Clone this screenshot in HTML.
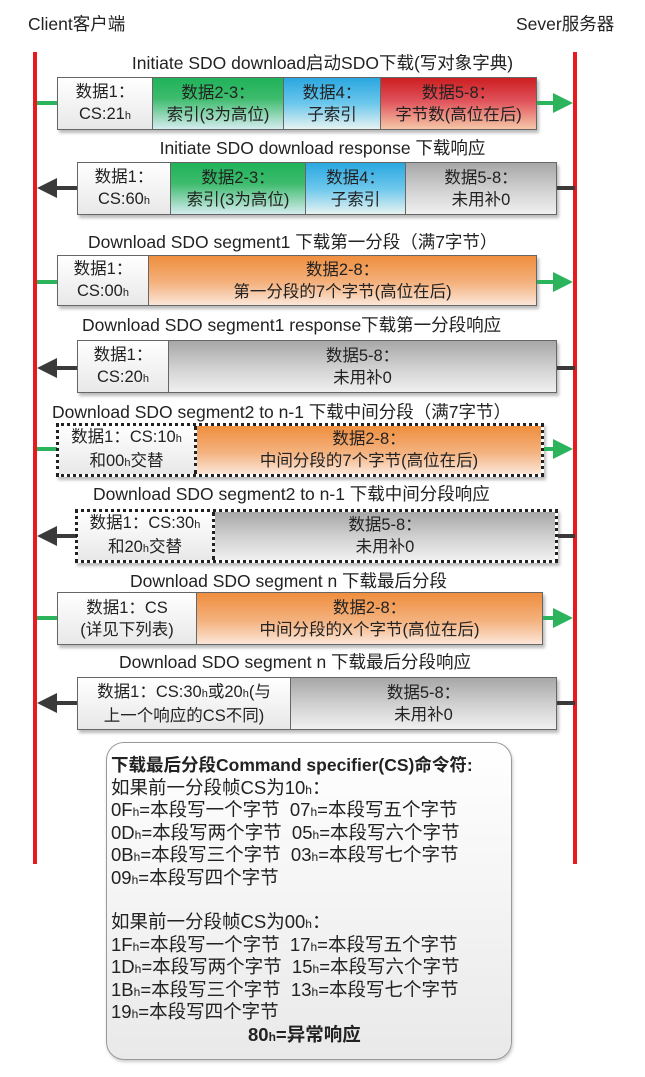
<!DOCTYPE html>
<html><head><meta charset="utf-8"><style>
*{margin:0;padding:0;box-sizing:border-box}
body{width:645px;height:1077px;background:#fff;position:relative;overflow:hidden;font-family:"Liberation Sans","Noto Sans CJK SC",sans-serif;color:#222}
.vl{position:absolute;top:52px;height:812px;width:4px;background:#e8191f}
.t{position:absolute;font-size:17.5px;white-space:nowrap;text-align:center;line-height:20px}
.box{position:absolute;display:flex;border:1px solid #666;box-shadow:2px 3px 3px #bbb}
.c{display:flex;flex-direction:column;justify-content:center;align-items:center;font-size:16.5px;line-height:22px;border-right:1px solid #666;text-align:center;white-space:nowrap}
.c:last-child{border-right:none}
.w{background:linear-gradient(#fff,#e8e8e8)}
.g{background:linear-gradient(#1fb35a,#3dbb6c 40%,#d4ecef)}
.b{background:linear-gradient(#2aa7e0,#6cc7ec 50%,#e6f3f1)}
.r{background:linear-gradient(#cc1f22,#e0525a 45%,#f5c7a8)}
.o{background:linear-gradient(#ef8e3e,#f4b27f 55%,#fbe6d8)}
.gr{background:linear-gradient(#a7a7a7,#cfcfcf 50%,#f0f0f0)}
.dot{border:3px dotted #222}
.dot .c{border-right:3px dotted #222}
.dot .c:last-child{border-right:none}
.ln{position:absolute;height:4px}
.gl{background:#2cb45d}.dl{background:#3a3a3a}
.ar{position:absolute;width:0;height:0;border-top:10px solid transparent;border-bottom:10px solid transparent}
.arR{border-left:20px solid #2cb45d}
.arL{border-right:20px solid #3a3a3a}
small{font-size:11px}
.note{position:absolute;left:106px;top:742px;width:406px;height:318px;border:1px solid #999;border-radius:18px;background:linear-gradient(#fff,#e9e9e9);box-shadow:1px 2px 3px #ccc}
.nt{position:absolute;left:111px;font-size:18.5px;white-space:nowrap;line-height:20px}
.nt small{font-size:12px}
</style></head><body>
<div class="t" style="left:28px;top:14px">Client客户端</div>
<div class="t" style="left:516px;top:14px">Sever服务器</div>
<div class="vl" style="left:33px"></div>
<div class="vl" style="left:573px"></div>

<div class="t" style="left:0;width:645px;top:53px">Initiate SDO download启动SDO下载(写对象字典)</div>
<div class="ln gl" style="left:37px;width:20px;top:101px"></div>
<div class="box" style="left:57px;top:77px;width:480px;height:53px">
<div class="c w" style="width:95px"><div>数据1：</div><div>CS:21<small>h</small></div></div>
<div class="c g" style="width:131px"><div>数据2-3：</div><div>索引(3为高位)</div></div>
<div class="c b" style="width:97px"><div>数据4：</div><div>子索引</div></div>
<div class="c r" style="flex:1"><div>数据5-8：</div><div>字节数(高位在后)</div></div>
</div>
<div class="ln gl" style="left:537px;width:20px;top:101px"></div>
<div class="ar arR" style="left:553px;top:93px"></div>

<div class="t" style="left:0;width:645px;top:138px">Initiate SDO download response 下载响应</div>
<div class="ar arL" style="left:37px;top:178px"></div>
<div class="ln dl" style="left:55px;width:22px;top:186px"></div>
<div class="box" style="left:77px;top:162px;width:480px;height:53px">
<div class="c w" style="width:93px"><div>数据1：</div><div>CS:60<small>h</small></div></div>
<div class="c g" style="width:135px"><div>数据2-3：</div><div>索引(3为高位)</div></div>
<div class="c b" style="width:100px"><div>数据4：</div><div>子索引</div></div>
<div class="c gr" style="flex:1"><div>数据5-8：</div><div>未用补0</div></div>
</div>
<div class="ln dl" style="left:557px;width:18px;top:186px"></div>

<div class="t" style="left:88px;top:232px">Download SDO segment1 下载第一分段（满7字节）</div>
<div class="ln gl" style="left:37px;width:20px;top:280px"></div>
<div class="box" style="left:57px;top:255px;width:480px;height:51px">
<div class="c w" style="width:91px"><div>数据1：</div><div>CS:00<small>h</small></div></div>
<div class="c o" style="flex:1"><div>数据2-8：</div><div>第一分段的7个字节(高位在后)</div></div>
</div>
<div class="ln gl" style="left:537px;width:20px;top:280px"></div>
<div class="ar arR" style="left:553px;top:272px"></div>

<div class="t" style="left:82px;top:315px">Download SDO segment1 response下载第一分段响应</div>
<div class="ar arL" style="left:37px;top:358px"></div>
<div class="ln dl" style="left:55px;width:22px;top:366px"></div>
<div class="box" style="left:77px;top:340px;width:480px;height:53px">
<div class="c w" style="width:91px"><div>数据1：</div><div>CS:20<small>h</small></div></div>
<div class="c gr" style="flex:1"><div>数据5-8：</div><div>未用补0</div></div>
</div>
<div class="ln dl" style="left:557px;width:18px;top:366px"></div>

<div class="t" style="left:52px;top:402px">Download SDO segment2 to n-1 下载中间分段（满7字节）</div>
<div class="ln gl" style="left:37px;width:20px;top:447px"></div>
<div class="box dot" style="left:56px;top:423px;width:488px;height:54px">
<div class="c w" style="width:138px"><div>数据1：CS:10<small>h</small></div><div>和00<small>h</small>交替</div></div>
<div class="c o" style="flex:1"><div>数据2-8：</div><div>中间分段的7个字节(高位在后)</div></div>
</div>
<div class="ln gl" style="left:544px;width:15px;top:447px"></div>
<div class="ar arR" style="left:553px;top:439px"></div>

<div class="t" style="left:93px;top:484px">Download SDO segment2 to n-1 下载中间分段响应</div>
<div class="ar arL" style="left:37px;top:526px"></div>
<div class="ln dl" style="left:55px;width:22px;top:534px"></div>
<div class="box dot" style="left:75px;top:509px;width:483px;height:54px">
<div class="c w" style="width:137px"><div>数据1：CS:30<small>h</small></div><div>和20<small>h</small>交替</div></div>
<div class="c gr" style="flex:1"><div>数据5-8：</div><div>未用补0</div></div>
</div>
<div class="ln dl" style="left:558px;width:17px;top:534px"></div>

<div class="t" style="left:130px;top:571px">Download SDO segment n 下载最后分段</div>
<div class="ln gl" style="left:37px;width:20px;top:616px"></div>
<div class="box" style="left:57px;top:592px;width:486px;height:53px">
<div class="c w" style="width:139px"><div>数据1：CS</div><div>(详见下列表)</div></div>
<div class="c o" style="flex:1"><div>数据2-8：</div><div>中间分段的X个字节(高位在后)</div></div>
</div>
<div class="ln gl" style="left:543px;width:16px;top:616px"></div>
<div class="ar arR" style="left:553px;top:608px"></div>

<div class="t" style="left:119px;top:652px">Download SDO segment n 下载最后分段响应</div>
<div class="ar arL" style="left:37px;top:693px"></div>
<div class="ln dl" style="left:55px;width:22px;top:701px"></div>
<div class="box" style="left:77px;top:677px;width:480px;height:53px">
<div class="c w" style="width:213px"><div>数据1：CS:30<small>h</small>或20<small>h</small>(与</div><div>上一个响应的CS不同)</div></div>
<div class="c gr" style="flex:1"><div>数据5-8：</div><div>未用补0</div></div>
</div>
<div class="ln dl" style="left:557px;width:18px;top:701px"></div>

<div class="note"></div>
<div class="nt" style="top:755px;font-weight:bold;font-size:17.5px">下载最后分段Command specifier(CS)命令符:</div>
<div class="nt" style="top:778px">如果前一分段帧CS为10<small>h</small>：</div>
<div class="nt" style="top:800px">0F<small>h</small>=本段写一个字节&nbsp; 07<small>h</small>=本段写五个字节</div>
<div class="nt" style="top:823px">0D<small>h</small>=本段写两个字节&nbsp; 05<small>h</small>=本段写六个字节</div>
<div class="nt" style="top:845px">0B<small>h</small>=本段写三个字节&nbsp; 03<small>h</small>=本段写七个字节</div>
<div class="nt" style="top:868px">09<small>h</small>=本段写四个字节</div>
<div class="nt" style="top:912px">如果前一分段帧CS为00<small>h</small>：</div>
<div class="nt" style="top:935px">1F<small>h</small>=本段写一个字节&nbsp; 17<small>h</small>=本段写五个字节</div>
<div class="nt" style="top:957px">1D<small>h</small>=本段写两个字节&nbsp; 15<small>h</small>=本段写六个字节</div>
<div class="nt" style="top:980px">1B<small>h</small>=本段写三个字节&nbsp; 13<small>h</small>=本段写七个字节</div>
<div class="nt" style="top:1002px">19<small>h</small>=本段写四个字节</div>
<div class="nt" style="top:1025px;left:248px;font-weight:bold">80<small>h</small>=异常响应</div>
</body></html>
